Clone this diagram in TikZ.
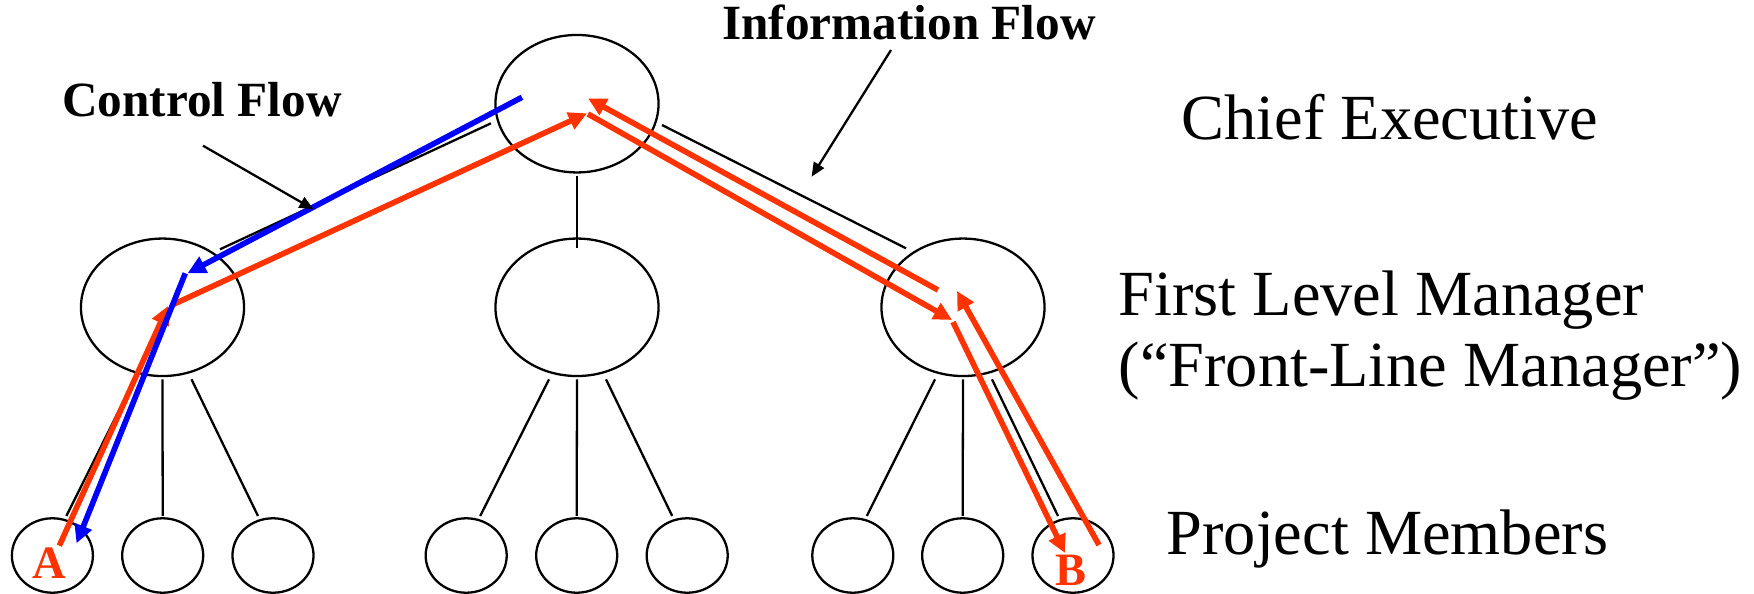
\documentclass[tikz,border=0pt]{standalone}
\usepackage{fontspec}
\setmainfont{Liberation Serif}
\usetikzlibrary{arrows.meta,shapes.geometric}
\definecolor{flowred}{RGB}{255,51,0}
\definecolor{flowblue}{RGB}{0,0,255}
\begin{document}
\begin{tikzpicture}[x=0.01cm, y=-0.01cm,
  boss/.style={ellipse, draw, line width=0.65pt, minimum width=1.63cm,
    minimum height=1.374cm, inner sep=0pt, outer sep=0pt},
  member/.style={ellipse, draw, line width=0.65pt, minimum width=0.81cm,
    minimum height=0.744cm, inner sep=0pt, outer sep=0pt},
  tree/.style={line width=0.65pt},
  flow/.style={line width=1.6pt, -{Triangle[length=5.2pt,width=5pt]}},
  pointer/.style={line width=0.65pt, -{Triangle[length=4pt,width=3.4pt]}},
  level/.style={font=\fontsize{18.3pt}{20.4pt}\selectfont, inner sep=0pt, anchor=base west},
  tag/.style={font=\fontsize{14pt}{16pt}\selectfont\bfseries, inner sep=0pt, anchor=base west},
  lettertag/.style={font=\fontsize{13.2pt}{15pt}\selectfont\bfseries, text=flowred,
    inner sep=0pt, anchor=base}]
\useasboundingbox (0,0) rectangle (1754,594);

% organisation chart
\node[boss] (ce) at (577,103.7) {};
\node[boss] (m1) at (162.5,307.3) {};
\node[boss] (m2) at (577,307.3) {};
\node[boss] (m3) at (963,307.3) {};
\foreach \n/\x in {1/52.4,2/162.7,3/273,4/466.2,5/576.7,6/687.2,7/852.8,8/962.7,9/1073}
  \node[member] (p\n) at (\x,555.5) {};

% reporting lines
\draw[tree] ([shift={(-86,19.6)}]ce.center) -- ([shift={(57.5,-58)}]m1.center);
\draw[tree] ([shift={(0,3.3)}]ce.south) -- ([shift={(0,9.7)}]m2.north);
\draw[tree] ([shift={(85,21.3)}]ce.center) -- ([shift={(-57,-59)}]m3.center);
\foreach \m/\a/\b/\c in {m1/p1/p2/p3, m2/p4/p5/p6, m3/p7/p8/p9} {
  \draw[tree] ([shift={(-28,3.3)}]\m.south) -- ([shift={(14,-2.3)}]\a.north);
  \draw[tree] ([shift={(0,3.3)}]\m.south) -- ([shift={(0,-2.3)}]\b.north);
  \draw[tree] ([shift={(29,3.3)}]\m.south) -- ([shift={(-15,-2.3)}]\c.north);
}

% information flow from A up to the top and down to B, and back
\draw[flow, flowred] ([shift={(6.9,-9.8)}]p1.center) -- ([shift={(5.5,-1.3)}]m1.center);
\draw[flow, flowred] ([shift={(9.5,-2.3)}]m1.center) -- ([shift={(10,9.6)}]ce.center);
\draw[flow, flowred] ([shift={(11,10.3)}]ce.center) -- ([shift={(-11,12.7)}]m3.center);
\draw[flow, flowred] ([shift={(-10,14.7)}]m3.center) -- ([shift={(-8,-2.5)}]p9.center);
\draw[flow, flowred] ([shift={(26,-10.5)}]p9.center) -- ([shift={(-6,-16.3)}]m3.center);
\draw[flow, flowred] ([shift={(-25,-17.3)}]m3.center) -- ([shift={(11,-5.4)}]ce.center);

% control flow from the top down to A
\draw[flow, flowblue] ([shift={(-55,-6.4)}]ce.center) -- ([shift={(25,-34)}]m1.center);
\draw[flow, flowblue] ([shift={(22.8,-34)}]m1.center) -- ([shift={(24.1,-12.2)}]p1.center);

% level captions
\node[level] (lce) at (1181,139.3) {Chief Executive};
\node[level] (lflm) at (1118,315) {First Level Manager};
\node[level] (lfront) at (1118,386.7) {(“Front-Line Manager”)};
\node[level] (lpm) at (1166,554) {Project Members};

% end points
\node[lettertag] (la) at (49.2,578.3) {A};
\node[lettertag] (lb) at (1070.5,585) {B};

% flow captions with their pointers
\node[tag] (cf) at (61.7,116.7) {Control Flow};
\node[tag] (inf) at (721.7,40) {Information Flow};
\coordinate (cftip) at (313.5,209.3);
\coordinate (inftip) at (811.6,176.7);
\draw[pointer] ([shift={(141.3,29)}]cf.base west) -- (cftip);
\draw[pointer] ([shift={(169.3,10)}]inf.base west) -- (inftip);
\end{tikzpicture}
\end{document}
